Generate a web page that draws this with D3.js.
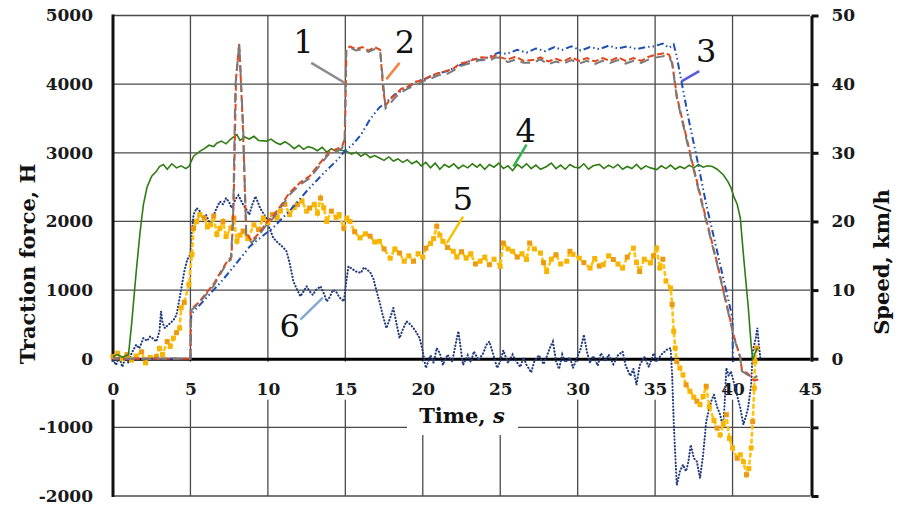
<!DOCTYPE html>
<html>
<head>
<meta charset="utf-8">
<script src="https://cdn.jsdelivr.net/npm/d3@7"></script>
<style>
  html, body { margin: 0; padding: 0; background: #fff; }
  svg { display: block; font-family: "DejaVu Serif", serif; }
</style>
</head>
<body>
<svg id="chart" width="900" height="505"></svg>
<script>
// axis ticks
const timeTicks = [0, 5, 10, 15, 20, 25, 30, 35, 40, 45];
const forceTicks = [-2000, -1000, 0, 1000, 2000, 3000, 4000, 5000];
const speedTicks = [-20, -10, 0, 10, 20, 30, 40, 50];

// 1 - gray, km/h
const series1 = [[0,0],[5,0],[5.02,7],[5.5,8],[6,9.3],[6.5,10.6],[7,12.6],[7.4,14.1],[7.6,14.4],[7.75,20],[7.9,39.8],[8.15,45.8],[8.4,34],[8.6,18.1],[8.95,16.9],[9.4,17.9],[9.9,19.5],[10.4,20.6],[10.8,21.9],[11.4,23.9],[12.1,25.4],[12.7,26.3],[13.4,28.3],[14,30],[14.5,30.3],[14.8,30.7],[14.95,31.5],[15.05,44.8],[15.3,45.3],[15.7,44.9],[16.1,45.1],[16.5,44.7],[16.9,45.1],[17.25,44.8],[17.45,40],[17.6,36.5],[17.9,37.2],[18.2,38],[18.6,38.8],[19,39.3],[19.5,39.8],[20,40.4],[20.5,40.8],[21,41.3],[21.5,41.4],[22,42],[22.4,42.6],[22.8,42.9],[23.3,43.2],[23.8,43.6],[24.3,43.4],[24.7,43.9],[25,43.8],[25.5,43.2],[26,43.6],[26.5,43.1],[27.1,43.1],[27.6,43.6],[28.1,42.9],[28.6,43.3],[29.1,43],[29.6,43.5],[30.1,43],[30.6,43.4],[31.1,42.9],[31.6,43.4],[32.1,43.1],[32.6,43.5],[33.1,43],[33.6,43.4],[34.1,43.1],[34.6,43.6],[35.1,43.9],[35.6,44.1],[35.9,44],[36.1,43],[36.4,38],[37.4,28.3],[38.3,20],[39,13.8],[39.6,7.9],[40.1,3],[40.5,0.1],[40.6,-1.8],[41,-2.4],[41.4,-2.8],[41.6,-2.5]];

// 2 - red, km/h
const series2 = [[0,0],[5,0],[5.02,7.2],[5.5,8.1],[6,9.5],[6.5,10.9],[7,12.8],[7.4,14.3],[7.65,14.8],[7.8,24],[7.95,41],[8.15,46],[8.4,33],[8.6,18.3],[8.95,17.2],[9.4,18.2],[9.9,19.8],[10.4,21],[10.8,22.2],[11.4,24.2],[12.1,25.7],[12.7,26.6],[13.4,28.6],[14,30.2],[14.5,30.6],[14.8,31],[14.97,32],[15.07,45],[15.3,45.5],[15.7,45.1],[16.1,45.4],[16.5,44.9],[16.9,45.4],[17.25,45],[17.45,39],[17.6,36.9],[17.9,37.8],[18.2,38.4],[18.6,39.3],[19,39.6],[19.5,40.3],[20,40.6],[20.5,41.2],[21,41.6],[21.5,41.9],[22,42.3],[22.4,43],[22.8,43.2],[23.3,43.6],[23.8,43.9],[24.3,43.8],[24.7,44.2],[25,43.9],[25.5,43.6],[26,44],[26.5,43.4],[27.1,43.5],[27.6,43.9],[28.1,43.3],[28.6,43.7],[29.1,43.3],[29.6,43.9],[30.1,43.4],[30.6,43.8],[31.1,43.3],[31.6,43.8],[32.1,43.4],[32.6,43.9],[33.1,43.4],[33.6,43.8],[34.1,43.4],[34.6,44],[35.1,44.3],[35.6,44.5],[35.9,44.3],[36.1,43.2],[36.4,38.3],[37.4,28.6],[38.3,20.3],[39,14],[39.6,8.1],[40.1,3.2],[40.5,0.2],[40.6,-1.6],[41,-2.2],[41.4,-3.2],[41.7,-3]];

// 3 - blue, km/h
const series3 = [[0,0],[5,0],[5.05,6.5],[6,8.8],[6.9,11],[7.5,12.6],[8.85,16.4],[9.5,17.6],[10.3,19],[11.5,21.8],[12.5,24.4],[13.5,26.8],[14.5,29],[15.1,30.6],[15.4,31],[16,32.6],[16.6,34.9],[17.2,36.6],[17.6,37.3],[18.2,38.5],[18.8,39.2],[19.6,40.4],[20.3,40.9],[21,41.6],[21.6,41.9],[22.2,42.6],[22.6,42.9],[23.2,43.6],[23.8,43.5],[24.3,44],[24.9,44.6],[25.4,44.4],[26.1,45],[26.7,44.6],[27.3,45.2],[27.9,44.8],[28.5,45.4],[29,45],[29.6,45.5],[30.2,44.9],[30.8,45.4],[31.4,45.1],[32,45.6],[32.6,45.2],[33.2,45.5],[33.8,45.1],[34.4,45.4],[34.9,45.5],[35.5,45.9],[35.9,45.3],[36.2,45.8],[36.4,44],[36.7,40.4],[37.2,34.5],[37.7,29.2],[38.3,22.5],[38.96,16.1],[39.4,11.75],[40,5.9],[40.02,0],[40.05,-0.5]];

// 4 - green, N
const series4 = [[0,30],[0.3,60],[0.6,20],[0.9,50],[1.0,60],[1.2,500],[1.5,1270],[1.75,1850],[1.96,2240],[2.2,2500],[2.5,2660],[2.8,2730],[3.0,2800],[3.25,2830],[3.5,2760],[3.8,2840],[4.1,2780],[4.4,2810],[4.7,2770],[4.9,2800],[5.2,2950],[5.6,3020],[5.9,3060],[6.2,3110],[6.5,3090],[6.7,3140],[7.0,3170],[7.3,3130],[7.6,3200],[8.0,3265],[8.2,3180],[8.5,3230],[8.8,3200],[9.1,3240],[9.4,3180],[9.9,3170],[10.2,3200],[10.5,3150],[10.8,3120],[11.1,3160],[11.4,3120],[11.7,3060],[12,3110],[12.3,3050],[12.6,3090],[12.9,3070],[13.2,3030],[13.5,3080],[13.8,3010],[14.1,3060],[14.4,3020],[14.7,3040],[15.1,3020],[15.4,2980],[15.7,3010],[16,2950],[16.3,2990],[16.6,2930],[16.9,2960],[17.2,2925],[17.5,2890],[17.8,2940],[18.1,2880],[18.4,2910],[18.7,2860],[19,2900],[19.3,2840],[19.6,2880],[19.9,2810],[20.2,2860],[20.5,2780],[20.8,2850],[21.1,2760],[21.4,2830],[21.7,2790],[22,2840],[22.3,2770],[22.6,2820],[22.9,2780],[23.2,2840],[23.5,2790],[23.7,2830],[24,2760],[24.3,2830],[24.6,2790],[24.9,2850],[25.2,2770],[25.5,2810],[25.8,2740],[26.1,2830],[26.4,2780],[26.7,2840],[27,2770],[27.3,2820],[27.6,2760],[28,2800],[28.3,2850],[28.6,2770],[28.9,2820],[29.2,2760],[29.5,2830],[29.8,2790],[30.1,2780],[30.4,2840],[30.7,2760],[31,2810],[31.4,2830],[31.7,2770],[32,2820],[32.3,2780],[32.6,2830],[32.9,2760],[33.2,2800],[33.5,2770],[33.8,2830],[34.1,2760],[34.4,2810],[34.7,2780],[35.1,2755],[35.4,2810],[35.7,2770],[36,2820],[36.3,2760],[36.6,2800],[36.9,2770],[37.2,2820],[37.5,2780],[37.8,2830],[38.1,2790],[38.4,2810],[38.7,2800],[39.0,2760],[39.4,2680],[39.7,2580],[39.9,2490],[40.1,2350],[40.3,2250],[40.5,2050],[40.7,1520],[40.85,1150],[41.0,790],[41.2,200],[41.3,-15],[41.45,80],[41.6,155]];

// 5 - yellow, N
const series5 = [[0,30],[0.3,80],[0.6,0],[0.9,60],[1.2,-20],[1.5,40],[1.85,100],[2.1,-60],[2.4,20],[2.8,30],[3.0,150],[3.2,60],[3.5,250],[3.7,180],[3.9,300],[4.1,380],[4.3,445],[4.4,740],[4.6,820],[4.9,1080],[5.1,1520],[5.2,1900],[5.4,2000],[5.6,2100],[5.9,2050],[6.1,1920],[6.3,1950],[6.5,2080],[6.7,1810],[6.9,1900],[7.1,2000],[7.3,1780],[7.6,1900],[7.8,2050],[8.0,1710],[8.2,1800],[8.4,1860],[8.7,1750],[9.1,1950],[9.4,1880],[9.7,2050],[10.0,1980],[10.3,2100],[10.6,2050],[10.8,2150],[11.1,2250],[11.4,2100],[11.7,2200],[11.9,2245],[12.2,2300],[12.5,2150],[12.7,2195],[13.0,2250],[13.2,2120],[13.4,2340],[13.6,2200],[13.8,2000],[14.1,2150],[14.4,2060],[14.6,2100],[14.9,1900],[15.1,2050],[15.3,2000],[15.6,1850],[15.95,1760],[16.3,1820],[16.6,1785],[16.9,1700],[17.2,1710],[17.5,1600],[17.9,1465],[18.2,1600],[18.5,1540],[18.8,1420],[19.1,1500],[19.4,1420],[19.7,1530],[20.0,1480],[20.2,1610],[20.5,1680],[20.7,1750],[20.9,1930],[21.1,1800],[21.3,1710],[21.6,1620],[21.97,1565],[22.2,1480],[22.5,1560],[22.8,1465],[23.1,1530],[23.4,1380],[23.7,1420],[24.0,1480],[24.3,1370],[24.6,1450],[25.0,1345],[25.2,1685],[25.5,1600],[25.8,1565],[26.1,1480],[26.4,1530],[26.7,1445],[26.9,1685],[27.2,1600],[27.6,1540],[27.8,1400],[28.0,1270],[28.3,1450],[28.6,1515],[28.9,1380],[29.3,1420],[29.5,1565],[29.7,1520],[30.1,1465],[30.4,1400],[30.8,1320],[31.1,1460],[31.4,1350],[31.65,1370],[32.0,1500],[32.3,1445],[32.6,1380],[32.9,1320],[33.2,1480],[33.6,1610],[33.8,1400],[34.0,1270],[34.3,1450],[34.7,1395],[34.9,1500],[35.1,1610],[35.3,1320],[35.5,1450],[35.7,1130],[36.0,1030],[36.1,790],[36.2,400],[36.3,155],[36.4,-40],[36.6,-135],[36.8,-235],[37.0,-380],[37.25,-475],[37.5,-560],[37.7,-620],[37.9,-670],[38.1,-550],[38.3,-400],[38.5,-700],[38.8,-900],[39.0,-1010],[39.2,-1110],[39.4,-950],[39.6,-815],[39.8,-1160],[40.0,-1300],[40.3,-1450],[40.5,-1400],[40.7,-1500],[40.9,-1690],[41.05,-1600],[41.2,-1300],[41.3,-915],[41.4,-430],[41.45,-40],[41.55,155]];

// 6 - navy, N
const series6 = [[0,-20],[0.2,-90],[0.4,30],[0.6,-120],[0.8,10],[1.0,-60],[1.2,80],[1.5,205],[1.7,150],[1.96,300],[2.2,260],[2.4,325],[2.6,290],[2.8,250],[3.0,400],[3.1,690],[3.2,520],[3.35,445],[3.5,480],[3.7,520],[3.9,560],[4.1,640],[4.3,885],[4.6,1270],[4.8,1450],[5.0,1520],[5.1,1850],[5.2,2100],[5.4,2195],[5.6,2150],[5.8,2050],[6.0,2100],[6.3,1950],[6.6,2150],[6.9,2290],[7.1,2250],[7.3,2340],[7.5,2280],[7.66,2195],[7.9,2320],[8.1,2380],[8.4,2245],[8.6,2180],[8.8,2100],[9.0,2250],[9.2,2365],[9.5,2195],[9.7,2120],[9.9,2050],[10.1,1900],[10.35,1760],[10.6,1700],[10.8,1660],[11.0,1620],[11.2,1565],[11.4,1400],[11.65,1125],[11.9,1000],[12.1,910],[12.3,980],[12.5,1055],[12.7,980],[12.9,930],[13.1,1000],[13.4,1055],[13.6,960],[13.8,835],[14.0,900],[14.2,1000],[14.4,980],[14.6,900],[14.9,835],[15.05,1100],[15.2,1345],[15.5,1300],[15.7,1270],[16.0,1250],[16.2,1330],[16.4,1300],[16.6,1260],[16.8,1175],[17.0,1000],[17.2,835],[17.4,650],[17.65,445],[17.9,600],[18.1,740],[18.3,520],[18.5,300],[18.7,420],[18.95,545],[19.2,500],[19.4,445],[19.6,380],[19.8,300],[20.0,105],[20.2,-135],[20.5,50],[20.7,-60],[20.9,155],[21.1,80],[21.3,-90],[21.6,60],[21.9,-40],[22.2,300],[22.3,400],[22.45,150],[22.6,-90],[22.9,50],[23.1,-50],[23.3,105],[23.6,-20],[23.9,80],[24.1,200],[24.3,250],[24.5,100],[24.8,-135],[25.0,-40],[25.2,120],[25.5,-60],[25.8,60],[26.0,-30],[26.3,-120],[26.5,20],[26.7,-90],[27.0,-200],[27.2,-40],[27.5,50],[27.8,-80],[28.0,30],[28.2,155],[28.4,250],[28.6,-30],[28.8,-150],[29.0,60],[29.2,-50],[29.5,20],[29.7,-135],[29.9,-20],[30.2,150],[30.4,350],[30.6,100],[30.8,-60],[31.0,40],[31.3,-100],[31.5,80],[31.8,-40],[32.0,60],[32.3,-80],[32.6,50],[32.9,105],[33.1,-100],[33.4,-250],[33.6,-150],[33.8,-380],[34.0,-100],[34.3,30],[34.6,-120],[34.9,80],[35.1,-40],[35.4,60],[35.75,130],[36.0,155],[36.1,-235],[36.2,-915],[36.3,-1400],[36.4,-1840],[36.6,-1640],[36.8,-1545],[37.0,-1640],[37.15,-1500],[37.3,-1255],[37.5,-1450],[37.7,-1500],[37.9,-1740],[38.1,-1400],[38.3,-915],[38.5,-720],[38.65,-600],[38.8,-525],[39.0,-700],[39.2,-815],[39.4,-1010],[39.5,-600],[39.6,-135],[39.75,-250],[39.9,-185],[40.2,-450],[40.5,-720],[40.7,-960],[40.85,-850],[41.0,-720],[41.2,-380],[41.3,105],[41.5,300],[41.6,450],[41.7,200],[41.8,0]];

// curve number labels: text position and leader line end points (time, force)
const labelNames = ['1', '2', '3', '4', '5', '6'];
const labelPos = [[12.3, 4620], [18.85, 4620], [38.3, 4490], [26.65, 3320], [22.6, 2320], [11.4, 480]];
const leaderFrom = [[12.8, 4310], [18.5, 4310], [37.85, 4190], [26.7, 3120], [22.6, 2070], [12.1, 570]];
const leaderTo = [[14.95, 4020], [17.65, 4070], [36.7, 4040], [25.85, 2800], [21.55, 1685], [13.55, 890]];
const leaderColors = ['#8c8c8c', '#f5823c', '#5a5ae0', '#33b350', '#f5c400', '#86a8d0'];

const svg = d3.select('#chart');

const x = d3.scaleLinear().domain([0, 45]).range([113, 810]);
const yForce = d3.scaleLinear().domain([-2000, 5000]).range([496, 15.5]);
const ySpeed = d3.scaleLinear().domain([-20, 50]).range([496, 15.5]);

const font = '"DejaVu Serif", serif';
const plain = d => String(d).replace('\u2212', '-');

// grid
const grid = svg.append('g');
grid.selectAll('line.v').data(timeTicks.slice(1, -1)).enter().append('line')
  .attr('x1', d => x(d)).attr('x2', d => x(d))
  .attr('y1', yForce(5000)).attr('y2', yForce(-2000))
  .attr('stroke', '#4a4a4a').attr('stroke-width', 1.3);
grid.selectAll('line.h').data(forceTicks).enter().append('line')
  .attr('x1', x(0)).attr('x2', x(45))
  .attr('y1', d => yForce(d)).attr('y2', d => yForce(d))
  .attr('stroke', '#4a4a4a').attr('stroke-width', 1.3);

// left axis line
svg.append('line').attr('x1', x(0)).attr('x2', x(0))
  .attr('y1', yForce(5000) - 1).attr('y2', yForce(-2000) + 1)
  .attr('stroke', '#111').attr('stroke-width', 3);

// right axis
const rightAxis = svg.append('g').attr('transform', `translate(${x(45) + 1.5},0)`)
  .call(d3.axisRight(ySpeed).tickValues(speedTicks).tickSize(7).tickSizeOuter(0).tickPadding(13)
    .tickFormat(d => d >= 0 ? plain(d) : ''));
rightAxis.select('.domain').attr('stroke', '#111').attr('stroke-width', 3);
rightAxis.selectAll('.tick line').attr('stroke', '#111').attr('stroke-width', 3);
rightAxis.selectAll('.tick text').style('font-family', font).style('font-size', '17px')
  .style('font-weight', 'bold').attr('fill', '#1a1a1a');

// white band under the time labels and title
svg.append('rect').attr('x', 100).attr('y', yForce(0) + 3).attr('width', 730).attr('height', 38).attr('fill', '#fff');
svg.append('rect').attr('x', 407).attr('y', 398).attr('width', 111).attr('height', 37).attr('fill', '#fff');

// zero line / time axis
const xAxis = svg.append('g').attr('transform', `translate(0,${yForce(0)})`)
  .call(d3.axisBottom(x).tickValues(timeTicks).tickSize(0).tickPadding(24).tickSizeOuter(0).tickFormat(plain));
xAxis.select('.domain').attr('stroke', '#000').attr('stroke-width', 3);
xAxis.selectAll('.tick text').style('font-family', font).style('font-size', '17px')
  .style('font-weight', 'bold').attr('fill', '#1a1a1a');

// left tick labels
const leftAxis = svg.append('g').attr('transform', `translate(${x(0)},0)`)
  .call(d3.axisLeft(yForce).tickValues(forceTicks).tickSize(0).tickPadding(20).tickFormat(plain));
leftAxis.select('.domain').remove();
leftAxis.selectAll('.tick text').style('font-family', font).style('font-size', '17px')
  .style('font-weight', 'bold').attr('fill', '#1a1a1a');

// series
const lineForce = d3.line().x(d => x(d[0])).y(d => yForce(d[1]));
const lineSpeed = d3.line().x(d => x(d[0])).y(d => ySpeed(d[1]));

const plot = svg.append('g');

plot.append('path').datum(series6).attr('d', lineForce)
  .attr('fill', 'none').attr('stroke', '#233c80').attr('stroke-width', 2.1)
  .attr('stroke-dasharray', '0.3,3').attr('stroke-linecap', 'round');

plot.append('path').datum(series5).attr('d', lineForce)
  .attr('fill', 'none').attr('stroke', '#ffc20e').attr('stroke-width', 2.6)
  .attr('stroke-dasharray', '5,2');
plot.selectAll('rect.s5').data(series5).enter().append('rect')
  .attr('x', d => x(d[0]) - 2.5).attr('y', d => yForce(d[1]) - 2.5)
  .attr('width', 5).attr('height', 5).attr('fill', (d, i) => i % 3 === 0 ? '#ee9a10' : '#f7b400');

plot.append('path').datum(series4).attr('d', lineForce)
  .attr('fill', 'none').attr('stroke', '#2f7d12').attr('stroke-width', 1.6);

plot.append('path').datum(series3).attr('d', lineSpeed)
  .attr('fill', 'none').attr('stroke', '#1f4fb0').attr('stroke-width', 2)
  .attr('stroke-dasharray', '7,3,1.5,3,1.5,3');

plot.append('path').datum(series2).attr('d', lineSpeed)
  .attr('fill', 'none').attr('stroke', '#e2461c').attr('stroke-width', 2)
  .attr('stroke-dasharray', '7,3');

plot.append('path').datum(series1).attr('d', lineSpeed)
  .attr('fill', 'none').attr('stroke', '#7a7a7a').attr('stroke-width', 2)
  .attr('stroke-dasharray', '10,6').attr('stroke-dashoffset', 4);

// number labels with leader lines
const notes = svg.append('g');
labelNames.forEach((name, i) => {
  notes.append('line')
    .attr('x1', x(leaderFrom[i][0])).attr('y1', yForce(leaderFrom[i][1]))
    .attr('x2', x(leaderTo[i][0])).attr('y2', yForce(leaderTo[i][1]))
    .attr('stroke', leaderColors[i]).attr('stroke-width', 2.5);
  notes.append('text')
    .attr('x', x(labelPos[i][0])).attr('y', yForce(labelPos[i][1]))
    .attr('text-anchor', 'middle').attr('dominant-baseline', 'central')
    .style('font-family', font).style('font-size', '32px').attr('fill', '#111')
    .text(name);
});

// axis titles
svg.append('text').attr('x', 462).attr('y', 423)
  .attr('text-anchor', 'middle')
  .style('font-family', font).style('font-size', '21px').style('font-weight', 'bold').attr('fill', '#111')
  .html('Time, <tspan font-style="italic">s</tspan>');

svg.append('text').attr('transform', 'translate(35,264) rotate(-90)')
  .attr('text-anchor', 'middle')
  .style('font-family', font).style('font-size', '21px').style('font-weight', 'bold').attr('fill', '#111')
  .text('Traction force, H');

svg.append('text').attr('transform', 'translate(889,262) rotate(-90)')
  .attr('text-anchor', 'middle')
  .style('font-family', font).style('font-size', '21px').style('font-weight', 'bold').attr('fill', '#111')
  .text('Speed, km/h');
</script>
</body>
</html>
